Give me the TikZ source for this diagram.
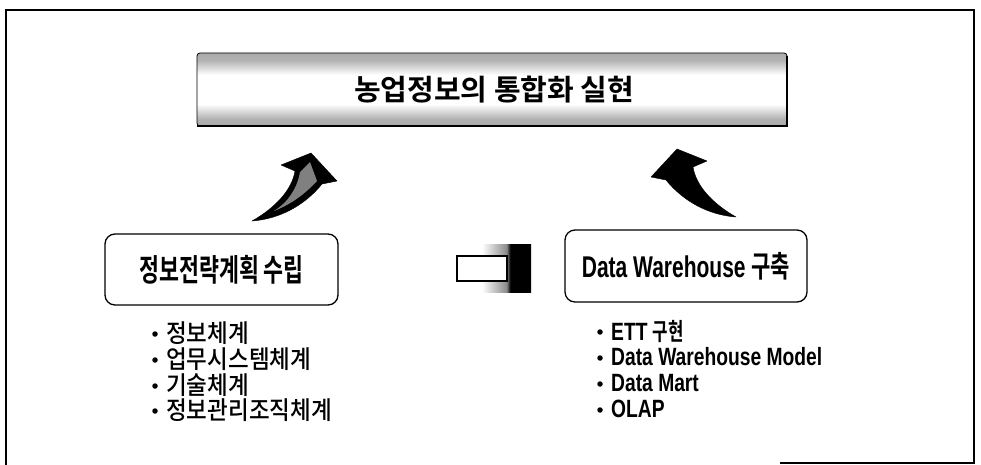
\documentclass[tikz,border=0pt]{standalone}
\usepackage{fontspec}
\setmainfont{Liberation Sans}
\newfontfamily\krB{Noto Sans CJK KR Bold}[FakeStretch=0.7]
\newfontfamily\krT{Noto Sans CJK KR Bold}
\newfontfamily\krM{Noto Sans CJK KR Medium}[FakeStretch=0.9]
\newfontfamily\laB{Liberation Sans Bold}[FakeStretch=0.77]
\newfontfamily\laBox{Liberation Sans Bold}[FakeStretch=0.7]
\usetikzlibrary{calc}

% banner: grey edges fading into a white middle band
\pgfdeclareverticalshading{bannershade}{100bp}{%
  color(0bp)=(black!70); color(8bp)=(black!45); color(30bp)=(black!30);
  color(40bp)=(white); color(60bp)=(white);
  color(70bp)=(black!30); color(92bp)=(black!45); color(100bp)=(black!75)}
% connector block: white to black from left to right
\pgfdeclarehorizontalshading{plugshade}{100bp}{%
  color(0bp)=(white); color(25bp)=(white); color(50bp)=(black!45);
  color(54bp)=(black); color(100bp)=(black)}

\tikzset{
  stagebox/.style={draw=black, line width=1.3pt, rounded corners=10pt, fill=white},
  itemtext/.style={anchor=west, inner sep=0pt},
  bulletmark/.style={circle, fill=black, inner sep=0pt, minimum size=5.5pt},
  bentarrow/.style={fill=black, draw=black, line width=0.4pt, line join=round},
}

\begin{document}
\begin{tikzpicture}[x=1pt, y=-1pt]
\useasboundingbox (0,0) rectangle (981,465);
\fill[white] (0,0) rectangle (981,465);

% outer frame
\draw[line width=2pt] (6,465) -- (6,10) -- (974,10) -- (974,463) -- (780,463);

% goal banner
\shade[shading=bannershade, rounded corners=3pt] (197,53) rectangle (787,126);
\draw[line width=0.8pt, rounded corners=3pt] (197,53) rectangle (787,126);
\draw[line width=1.6pt] (787,56) -- (787,126) -- (197,126);
\node (goal) at (494,90) {\krT\fontsize{29}{29}\selectfont 농업정보의 통합화 실현};

% the two stages
\node[stagebox, minimum width=233pt, minimum height=71pt] (plan) at (221.5,269.5)
  {\krB\fontsize{31}{31}\selectfont 정보전략계획 수립};
\node[stagebox, minimum width=242pt, minimum height=72pt] (dw) at (686,266)
  {\laBox\fontsize{30}{30}\selectfont Data Warehouse {\krB 구축}};

% link between the stages
\shade[shading=plugshade] (482,244) rectangle (531,292);
\node[draw=black, line width=1.2pt, fill=white, minimum width=50pt, minimum height=25pt,
      inner sep=0pt] (plug) at (482,268.5) {};

% curved arrows rising from the stages to the banner
\path[bentarrow]
  (252,221) .. controls (280,219) and (305,205) .. (322,184)
  -- (337,181) -- (311,153) -- (281,165) -- (295,171)
  .. controls (292,190) and (275,208) .. (252,221) -- cycle;
\fill[black!50]
  (274,211) .. controls (292,204) and (306,193) .. (317,181)
  -- (310,162) -- (300,172) .. controls (297,189) and (288,202) .. (274,211) -- cycle;
\path[bentarrow]
  (736,217) .. controls (708,215) and (683,201) .. (666,180)
  -- (651,177) -- (677,149) -- (707,161) -- (693,167)
  .. controls (696,186) and (713,204) .. (736,217) -- cycle;

% items of the planning stage
\foreach \y/\t [count=\i] in {333/정보체계, 359/업무시스템체계, 385/기술체계, 410/정보관리조직체계} {
  \node[bulletmark] (pb\i) at (155,\y+1) {};
  \node[itemtext] (pi\i) at (166,\y) {\krM\fontsize{25}{25}\selectfont \t};
}

% items of the warehouse stage
\node[bulletmark] (db1) at (600,332) {};
\node[itemtext] (di1) at (611,331) {\laB\fontsize{25}{25}\selectfont ETT {\krB\fontsize{24}{24}\selectfont 구현}};
\node[bulletmark] (db2) at (600,358) {};
\node[itemtext] (di2) at (611,357) {\laB\fontsize{25}{25}\selectfont Data Warehouse Model};
\node[bulletmark] (db3) at (600,384) {};
\node[itemtext] (di3) at (611,383) {\laB\fontsize{25}{25}\selectfont Data Mart};
\node[bulletmark] (db4) at (600,410) {};
\node[itemtext] (di4) at (611,409) {\laB\fontsize{25}{25}\selectfont OLAP};
\end{tikzpicture}
\end{document}
